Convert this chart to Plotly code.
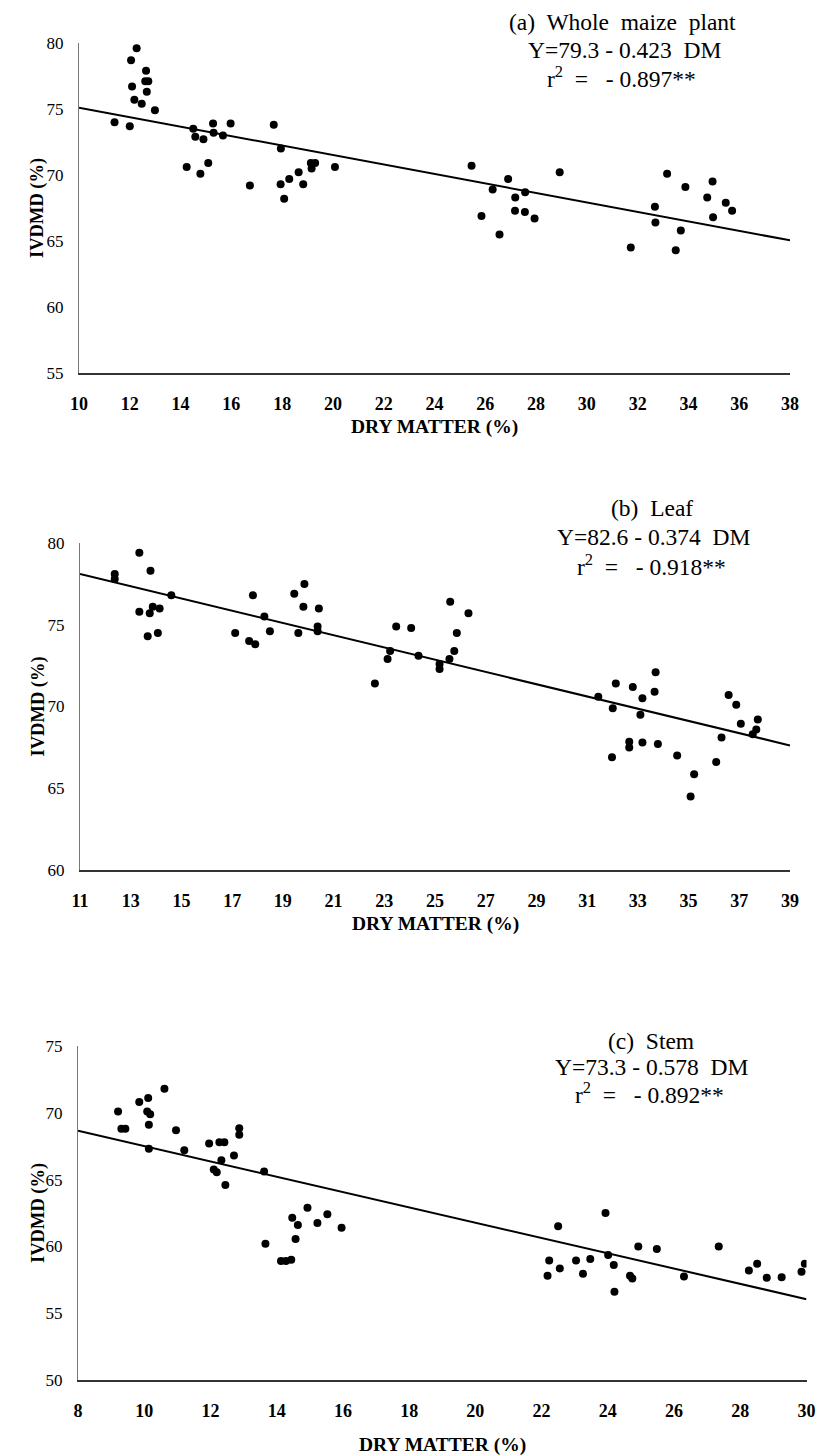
import plotly.graph_objects as go

# ---------------- data ----------------
a_dm = [11.4, 12.0, 12.05, 12.09, 12.18, 12.27, 12.47, 12.61, 12.64, 12.67, 12.73, 12.99,
        14.24, 14.5, 14.58, 14.78, 14.9, 15.09, 15.28, 15.3, 15.67, 15.97, 16.73, 17.67,
        17.94, 17.95, 18.08, 18.28, 18.65, 18.83, 19.13, 19.16, 19.3, 20.08,
        25.46, 25.85, 26.29, 26.56, 26.9, 27.17, 27.18, 27.56, 27.57, 27.94, 28.93,
        31.73, 32.68, 32.7, 33.16, 33.5, 33.7, 33.88, 34.74, 34.95, 34.97, 35.47, 35.72]
a_ivdmd = [74.0, 73.7, 78.7, 76.7, 75.7, 79.6, 75.4, 77.1, 77.9, 76.3, 77.1, 74.9,
           70.6, 73.5, 72.9, 70.1, 72.7, 70.9, 73.9, 73.2, 73.0, 73.9, 69.2, 73.8,
           69.3, 72.0, 68.2, 69.7, 70.2, 69.3, 70.9, 70.5, 70.9, 70.6,
           70.7, 66.9, 68.9, 65.5, 69.7, 67.3, 68.3, 67.2, 68.7, 66.7, 70.2,
           64.5, 67.6, 66.4, 70.1, 64.3, 65.8, 69.1, 68.3, 69.5, 66.8, 67.9, 67.3]
a_fit_dm = [10, 38]
a_fit_ivdmd = [75.1, 65.05]

b_dm = [12.37, 12.37, 13.34, 13.78, 14.6, 13.34, 13.75, 13.87, 14.14, 13.67, 14.07,
        17.12, 17.82, 17.67, 17.91, 18.27, 18.49, 19.45, 19.85, 19.81, 19.61, 20.42, 20.37, 20.37,
        22.63, 23.13, 23.23, 23.47, 24.06, 24.35, 25.18, 25.18, 25.6, 25.57, 25.76, 25.86, 26.32,
        31.44, 32.13, 32.8, 33.18, 33.66, 33.7, 32.01, 33.1, 31.98, 32.66, 32.66, 33.18, 33.79,
        34.55, 35.22, 35.08, 36.09, 36.3, 36.58, 36.88, 37.06, 37.73, 37.67, 37.53]
b_ivdmd = [78.1, 77.8, 79.4, 78.3, 76.8, 75.8, 75.7, 76.1, 76.0, 74.3, 74.5,
           74.5, 76.8, 74.0, 73.8, 75.5, 74.6, 76.9, 77.5, 76.1, 74.5, 76.0, 74.9, 74.6,
           71.4, 72.9, 73.4, 74.9, 74.8, 73.1, 72.6, 72.3, 76.4, 72.9, 73.4, 74.5, 75.7,
           70.6, 71.4, 71.2, 70.5, 70.9, 72.1, 69.9, 69.5, 66.9, 67.85, 67.5, 67.8, 67.7,
           67.0, 65.85, 64.5, 66.6, 68.1, 70.7, 70.1, 68.95, 69.2, 68.6, 68.3]
b_fit_dm = [11, 39]
b_fit_ivdmd = [78.1, 67.62]

c_dm = [9.21, 9.31, 9.43, 9.85, 10.12, 10.09, 10.18, 10.14, 10.61, 10.96, 10.14, 11.21,
        11.96, 12.27, 12.42, 12.87, 12.87, 12.71, 12.33, 12.1, 12.19, 12.45, 13.62,
        13.66, 14.13, 14.28, 14.44, 14.57, 14.47, 14.64, 14.93, 15.23, 15.53, 15.96,
        22.18, 22.23, 22.5, 22.55, 23.04, 23.25, 23.47, 23.93, 24.01, 24.18, 24.2,
        24.67, 24.74, 24.92, 25.48, 26.3, 27.35, 28.26, 28.51, 28.8, 29.25, 29.85, 29.95]
c_ivdmd = [70.1, 68.8, 68.8, 70.8, 71.1, 70.1, 69.9, 69.1, 71.8, 68.7, 67.3, 67.2,
           67.7, 67.8, 67.8, 68.85, 68.35, 66.8, 66.45, 65.75, 65.55, 64.6, 65.6,
           60.2, 58.9, 58.9, 59.0, 60.55, 62.15, 61.6, 62.9, 61.75, 62.4, 61.4,
           57.8, 58.95, 61.5, 58.35, 58.95, 57.95, 59.05, 62.5, 59.35, 58.6, 56.6,
           57.8, 57.6, 60.0, 59.8, 57.75, 60.0, 58.2, 58.7, 57.65, 57.7, 58.1, 58.7]
c_fit_dm = [8, 30]
c_fit_ivdmd = [68.65, 56.05]

panel_titles = ["(a)\u00a0 Whole\u00a0 maize\u00a0 plant", "(b)\u00a0 Leaf", "(c)\u00a0 Stem"]
equations = ["Y=79.3 - 0.423\u00a0 DM", "Y=82.6 - 0.374\u00a0 DM", "Y=73.3 - 0.578\u00a0 DM"]
r2_values = ["- 0.897**", "- 0.918**", "- 0.892**"]
x_ranges = [[10, 38], [11, 39], [8, 30]]
y_ranges = [[55, 80], [60, 80], [50, 75]]
x_tick_starts = [10, 11, 8]
x_label = "DRY MATTER (%)"
y_label = "IVDMD (%)"

# ---------------- layout geometry (pixels) ----------------
W, H = 818, 1456
# (left, right, top, bottom) of each plot area in pixels
boxes = [(79, 790, 43, 373), (80, 790, 543, 870), (78, 806.5, 1046, 1380)]
# centre (x, y) of each of the three annotation lines per panel
line_pos = [[(622, 21.7), (624.7, 50), (621.5, 77.3)],
            [(652, 508.3), (654, 536.7), (651.7, 565)],
            [(651, 1040.7), (651.7, 1067.3), (649, 1092.7)]]
xtitle_y = [427, 924, 1445]

SERIF = "Liberation Serif"
fig = go.Figure()

data = [(a_dm, a_ivdmd, a_fit_dm, a_fit_ivdmd),
        (b_dm, b_ivdmd, b_fit_dm, b_fit_ivdmd),
        (c_dm, c_ivdmd, c_fit_dm, c_fit_ivdmd)]

for i, (xd, yd, fx, fy) in enumerate(data):
    sfx = "" if i == 0 else str(i + 1)
    fig.add_trace(go.Scatter(x=fx, y=fy, mode="lines",
                             line=dict(color="black", width=2),
                             xaxis="x" + sfx, yaxis="y" + sfx, showlegend=False))
    fig.add_trace(go.Scatter(x=xd, y=yd, mode="markers",
                             marker=dict(color="black", size=8),
                             xaxis="x" + sfx, yaxis="y" + sfx, showlegend=False))

    l, r, t, b = boxes[i]
    xa = dict(domain=[l / W, r / W], range=x_ranges[i], anchor="y" + sfx,
              tick0=x_tick_starts[i], dtick=2, showgrid=False, zeroline=False,
              showline=True, linecolor="#333", linewidth=1.5, automargin=False,
              ticks="", ticklabelstandoff=14,
              tickfont=dict(family=SERIF, size=18, color="black", weight="bold"))
    ya = dict(domain=[1 - b / H, 1 - t / H], range=y_ranges[i], anchor="x" + sfx,
              dtick=5, showgrid=False, zeroline=False, automargin=False,
              showline=True, linecolor="#777", linewidth=1,
              ticks="", ticklabelstandoff=11,
              tickfont=dict(family=SERIF, size=17, color="black"))
    fig.layout["xaxis" + sfx] = xa
    fig.layout["yaxis" + sfx] = ya

    texts = [panel_titles[i], equations[i],
             "r<sup>2</sup>\u00a0 =\u00a0\u00a0 " + r2_values[i]]
    for (cx, cy), txt in zip(line_pos[i], texts):
        fig.add_annotation(xref="paper", yref="paper", x=cx / W, y=1 - cy / H,
                           xanchor="center", yanchor="middle", align="center",
                           showarrow=False, text=txt,
                           font=dict(family=SERIF, size=23.5, color="black"))
    fig.add_annotation(xref="paper", yref="paper", x=(l + r) / 2 / W, y=1 - xtitle_y[i] / H,
                       xanchor="center", yanchor="middle", showarrow=False,
                       text="<b>" + x_label + "</b>",
                       font=dict(family=SERIF, size=19.5, color="black"))
    fig.add_annotation(xref="paper", yref="paper", x=38 / W, y=1 - (t + b) / 2 / H,
                       xanchor="center", yanchor="middle", showarrow=False, textangle=-90,
                       text="<b>" + y_label + "</b>",
                       font=dict(family=SERIF, size=18.5, color="black"))

fig.update_layout(width=W, height=H, margin=dict(l=0, r=0, t=0, b=0),
                  template="none",
                  paper_bgcolor="white", plot_bgcolor="white", showlegend=False)

fig.write_html("out.html", config={"displayModeBar": False},
               post_script="document.body.style.margin='0px';document.body.style.overflow='hidden';")
